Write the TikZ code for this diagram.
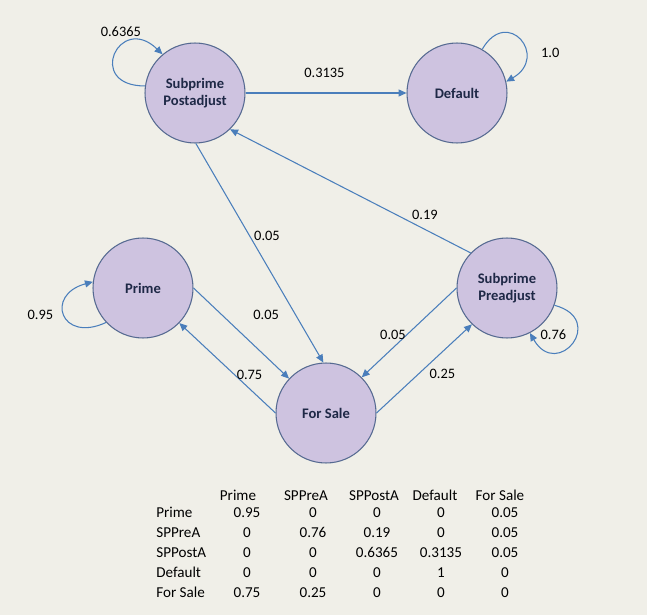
\documentclass[tikz,border=0pt]{standalone}
\usepackage{fontspec}
\setmainfont{Carlito}
\usetikzlibrary{arrows.meta,automata}
\definecolor{bgcol}{RGB}{240,239,232}
\definecolor{statefill}{RGB}{206,195,224}
\definecolor{stateline}{RGB}{86,106,145}
\definecolor{linkcol}{RGB}{74,126,187}
\definecolor{statetext}{RGB}{30,40,70}

\begin{document}
\begin{tikzpicture}[x=0.02cm, y=-0.02cm, ->, >={Triangle[length=4.5pt,width=4pt]},
  every state/.style={draw=stateline, fill=statefill, line width=0.6pt, minimum size=2cm,
    inner sep=0pt, text=statetext, align=center, font=\fontsize{8.3}{10}\selectfont\bfseries},
  every edge/.style={draw=linkcol, line width=0.6pt},
  prob/.style={font=\fontsize{8.2}{9.6}\selectfont, inner sep=0pt},
  cell/.style={font=\fontsize{8.6}{10}\selectfont, inner sep=0pt}]
  \path[use as bounding box, fill=bgcol] (0,0) rectangle (647,615);

  \node[state] (post)  at (195,93)  {Subprime\\Postadjust};
  \node[state] (dflt)  at (457,93)  {Default};
  \node[state] (prime) at (143,288) {Prime};
  \node[state] (sale)  at (326,413) {For Sale};
  \node[state] (pre)   at (507,288) {Subprime\\Preadjust};

  \path (post) edge node[prob, pos=.49, yshift=11.3pt] (l1) {0.3135} (dflt)
        (post.172) edge [out=180, in=136, distance=1.2cm]
              node[prob, pos=.75, xshift=-7pt, yshift=5.5pt] (l2) {0.6365} (post.130)
        (post.-89) edge node[prob, pos=.42, xshift=10pt] (l3) {0.05} (sale.93)
        (dflt.60) edge [out=60, in=30, distance=1cm]
              node[prob, pos=.5, xshift=17.3pt, yshift=-7.2pt] (l4) {1.0} (dflt.13)
        (prime.223) edge [out=205, in=195, distance=1cm]
              node[prob, pos=.5, xshift=-13.6pt] (l5) {0.95} (prime.173)
        (prime.0) edge node[prob, pos=.3, xshift=25pt] (l6) {0.05} (sale.137)
        (sale.180) edge node[prob, pos=.27, yshift=7.9pt] (l7) {0.75} (prime.-44)
        (sale.0) edge node[prob, pos=.69, yshift=-12.6pt] (l8) {0.25} (pre.-134)
        (pre.180) edge node[prob, pos=.67, yshift=7.4pt] (l9) {0.05} (sale.45)
        (pre.136) edge node[prob, pos=.19, yshift=8.5pt] (l10) {0.19} (post.-46)
        (pre.-20) edge [out=-15, in=-60, distance=1.1cm]
              node[prob, pos=.5, xshift=-10.8pt, yshift=4.5pt] (l11) {0.76} (pre.-63);

  % transition matrix
  \foreach \hd/\xx [count=\c] in {Prime/238, SPPreA/306, SPPostA/374, Default/435, For Sale/500}
    \node[cell, anchor=base] (h\c) at (\xx,501) {\hd};
  \foreach \lbl/\yy/\va/\vb/\vc/\vd/\ve [count=\r] in
      {Prime/518/0.95/0/0/0/0.05, SPPreA/538/0/0.76/0.19/0/0.05,
       SPPostA/558/0/0/0.6365/0.3135/0.05, Default/578/0/0/0/1/0,
       For Sale/598/0.75/0.25/0/0/0}
  {
    \node[cell, anchor=base west] (r\r) at (156,\yy) {\lbl};
    \node[cell, anchor=base] (m\r-1) at (247,\yy) {\va};
    \node[cell, anchor=base] (m\r-2) at (313,\yy) {\vb};
    \node[cell, anchor=base] (m\r-3) at (377,\yy) {\vc};
    \node[cell, anchor=base] (m\r-4) at (441,\yy) {\vd};
    \node[cell, anchor=base] (m\r-5) at (505,\yy) {\ve};
  }
\end{tikzpicture}
\end{document}
